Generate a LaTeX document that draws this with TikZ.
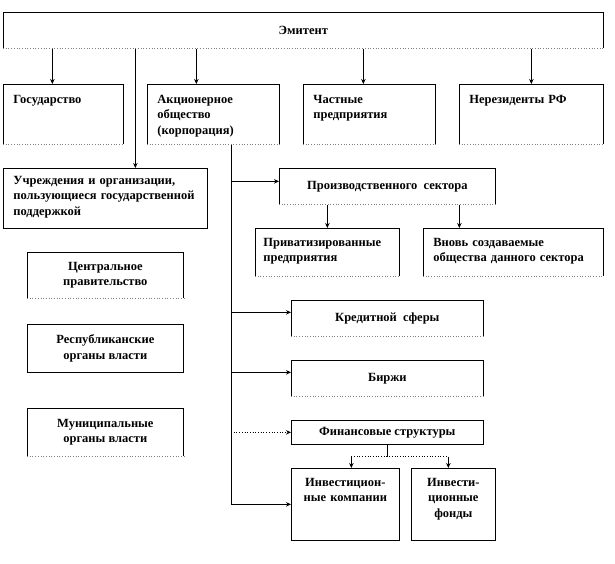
\documentclass[tikz,border=0pt]{standalone}
\usepackage{fontspec}
\setmainfont{Liberation Serif}
\usetikzlibrary{arrows.meta}

\tikzstyle{every node}=[font=\fontsize{12.5pt}{15.5pt}\selectfont\bfseries]
\tikzstyle{box}=[draw, line width=0.7pt, inner sep=0pt, anchor=north west]
\tikzstyle{tl}=[align=left, inner xsep=10pt]
\tikzstyle{arr}=[line width=0.7pt, -{Stealth[length=5pt,width=4.5pt]}]

\begin{document}
\begin{tikzpicture}[x=1pt, y=-1pt]
	            \useasboundingbox (0,0) rectangle (615,564);

	            % Эмитент
	            \node[box, minimum width=600pt, minimum height=36pt] (emit) at (3,12) {Эмитент};

	            % Первый ряд
	            \node[box, tl, text width=100pt, text height=19pt, text depth=41pt] (gos) at (3,84) {Государство};
	            \node[box, tl, text width=112pt, text height=19pt, text depth=41pt] (ao) at (147,84) {Акционерное\\общество\\(корпорация)};
	            \node[box, tl, text width=112pt, text height=19pt, text depth=41pt] (chast) at (303,84) {Частные\\предприятия};
	            \node[box, tl, text width=124pt, text height=19pt, text depth=41pt] (nerez) at (459,84) {Нерезиденты РФ};

	            % Левая колонка
	            \node[box, tl, text width=184pt, text height=16pt, text depth=44pt] (uchr) at (3,168) {Учреждения и организации,\\пользующиеся государственной\\поддержкой};
	            \node[box, align=center, minimum width=156pt, minimum height=46pt] (centr) at (27,252) {Центральное\\правительство};
	            \node[box, align=center, minimum width=156pt, minimum height=48pt] (resp) at (27,324) {Республиканские\\органы власти};
	            \node[box, align=center, minimum width=156pt, minimum height=48pt] (munic) at (27,408) {Муниципальные\\органы власти};

	            % Правая колонка
	            \node[box, minimum width=216pt, minimum height=36pt] (proizv) at (279,168) {Производственного~ сектора};
	            \node[box, tl, inner xsep=8pt, text width=128pt, text height=18pt, text depth=30pt] (priv) at (255,228) {Приватизированные\\предприятия};
	            \node[box, tl, text width=160pt, text height=18pt, text depth=30pt] (vnov) at (423,228) {Вновь создаваемые\\общества данного сектора};
	            \node[box, minimum width=192pt, minimum height=36pt] (kred) at (291,300) {Кредитной~ сферы};
	            \node[box, minimum width=192pt, minimum height=36pt] (birzh) at (291,360) {Биржи};
	            \node[box, minimum width=192pt, minimum height=24pt] (fin) at (291,420) {Финансовые структуры};
	            \node[box, align=center, text width=108pt, text height=18pt, text depth=54pt] (invk) at (291,468) {Инвестицион-\\ные компании};
	            \node[box, align=center, text width=84pt, text height=18pt, text depth=54pt] (invf) at (411,468) {Инвести-\\ционные\\фонды};

	            % Пунктирные нижние края
	            \foreach \n in {emit,gos,ao,chast,nerez,centr,munic,proizv,priv,vnov,kred,birzh}{
	              \draw[white, line width=1pt] (\n.south west) -- (\n.south east);
	              \draw[gray, dotted, line width=0.7pt] (\n.south west) -- (\n.south east);
	            }

	            % Стрелки от эмитента
	            \foreach \n/\dx in {gos/-11, ao/-17, chast/-6, nerez/0, uchr/30}
	              \draw[arr] ([xshift=\dx pt]\n.north |- emit.south) -- ([xshift=\dx pt]\n.north);

	            % Ствол от акционерного общества
	            \coordinate (trunk) at (231,504);
	            \draw[line width=0.7pt] (ao.south -| trunk) -- (trunk);
	            \foreach \n/\dy in {proizv/5, kred/6, birzh/6, invk/0}
	              \draw[arr] ([yshift=\dy pt]\n.west -| trunk) -- ([yshift=\dy pt]\n.west);
	            \draw[arr, dotted] (fin.west -| trunk) -- (fin.west);

	            % Производственный сектор
	            \draw[arr] (proizv.south -| priv) -- (priv.north);
	            \draw[arr] ([xshift=-54pt]vnov.north |- proizv.south) -- ([xshift=-54pt]vnov.north);

	            % Финансовые структуры
	            \draw[line width=0.7pt] (fin.south) -- ++(0,12) coordinate (fork);
	            \draw[dotted, line width=0.7pt] ([xshift=6pt]fork -| invk) -- ([xshift=-5pt]fork -| invf);
	            \draw[arr] ([xshift=6pt]fork -| invk) -- ([xshift=6pt]invk.north);
	            \draw[arr] ([xshift=-5pt]fork -| invf) -- ([xshift=-5pt]invf.north);
	        \end{tikzpicture}
\end{document}
